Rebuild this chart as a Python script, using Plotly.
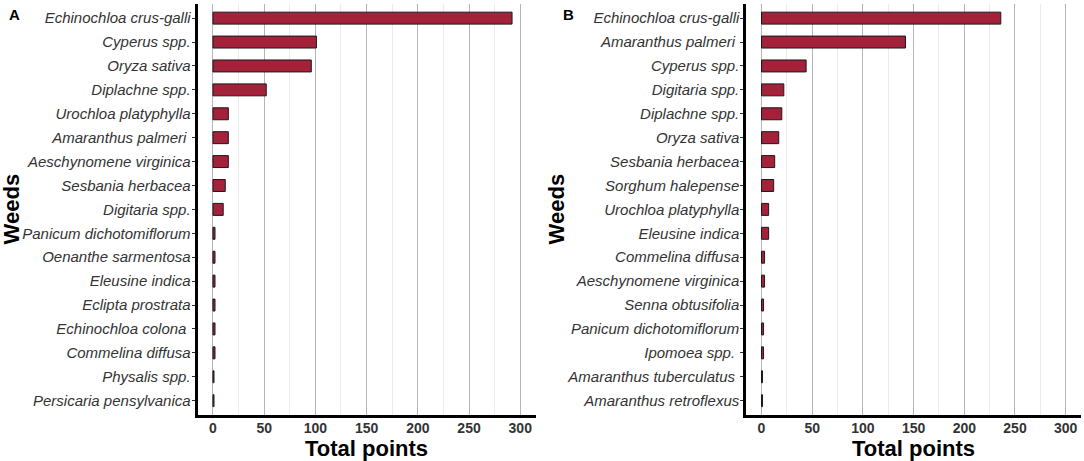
import plotly.graph_objects as go

# Panel A: weeds ranked by total points
weeds_a = [
    "Echinochloa crus-galli", "Cyperus spp.", "Oryza sativa", "Diplachne spp.",
    "Urochloa platyphylla", "Amaranthus palmeri ", "Aeschynomene virginica",
    "Sesbania herbacea", "Digitaria spp.", "Panicum dichotomiflorum",
    "Oenanthe sarmentosa", "Eleusine indica", "Eclipta prostrata",
    "Echinochloa colona ", "Commelina diffusa", "Physalis spp.",
    "Persicaria pensylvanica",
]
points_a = [292, 101, 96, 52, 15, 15, 15, 12, 10, 2, 2, 2, 2, 2, 2, 1, 1]

# Panel B
weeds_b = [
    "Echinochloa crus-galli", "Amaranthus palmeri ", "Cyperus spp.",
    "Digitaria spp.", "Diplachne spp.", "Oryza sativa", "Sesbania herbacea",
    "Sorghum halepense", "Urochloa platyphylla", "Eleusine indica",
    "Commelina diffusa", "Aeschynomene virginica", "Senna obtusifolia",
    "Panicum dichotomiflorum", "Ipomoea spp. ", "Amaranthus tuberculatus ",
    "Amaranthus retroflexus",
]
points_b = [236, 142, 44, 22, 20, 17, 13, 12, 7, 7, 3, 3, 2, 2, 2, 1, 1]

x_ticks = [0, 50, 100, 150, 200, 250, 300]

FONT = "Liberation Sans, Arial, sans-serif"
BAR_COLOR = "#a3223a"
W, H = 1084, 461
Y_DOMAIN = [(H - 415) / H, (H - 3.8) / H]


def bar_trace(weeds, points, xa, ya):
    return go.Bar(
        x=points, y=weeds, orientation="h", width=0.5,
        marker=dict(color=BAR_COLOR, line=dict(color="#1a1a1a", width=1)),
        xaxis=xa, yaxis=ya, showlegend=False, hoverinfo="skip",
    )


def x_axis(domain, anchor):
    return dict(
        domain=domain, anchor=anchor, range=[-15, 315],
        tickvals=x_ticks, ticktext=[str(v) for v in x_ticks],
        showgrid=True, gridcolor="#b5b5b5", gridwidth=1,
        minor=dict(dtick=25, tick0=0, showgrid=True, gridcolor="#ebebeb",
                   gridwidth=1, ticks=""),
        zeroline=False, showline=True, linecolor="black", linewidth=3,
        ticks="", ticklabelstandoff=-2,
        tickfont=dict(family=FONT, size=14, color="#333333", weight="bold"),
    )


def y_axis(weeds, anchor):
    return dict(
        domain=Y_DOMAIN, anchor=anchor, type="category",
        categoryorder="array", categoryarray=weeds,
        range=[len(weeds) - 0.4, -0.6],
        showgrid=False, zeroline=False,
        showline=True, linecolor="black", linewidth=3,
        ticks="outside", ticklen=3, tickcolor="#333333",
        ticklabelstandoff=-2,
        tickfont=dict(family=FONT, size=15, color="#333333", style="italic"),
    )


fig = go.Figure()
fig.add_trace(bar_trace(weeds_a, points_a, "x", "y"))
fig.add_trace(bar_trace(weeds_b, points_b, "x2", "y2"))

title_font = dict(family=FONT, size=22, color="black", weight="bold")
letter_font = dict(family=FONT, size=15, color="black", weight="bold")
y_mid = (Y_DOMAIN[0] + Y_DOMAIN[1]) / 2

fig.update_layout(
    width=W, height=H,
    margin=dict(l=0, r=0, t=0, b=0),
    paper_bgcolor="white", plot_bgcolor="white",
    hovermode=False,
    xaxis=x_axis([197.6 / W, 535.6 / W], "y"),
    yaxis=y_axis(weeds_a, "x"),
    xaxis2=x_axis([746.3 / W, 1080.9 / W], "y2"),
    yaxis2=y_axis(weeds_b, "x2"),
    annotations=[
        dict(text="A", x=14 / W, y=1 - 15 / H, xref="paper", yref="paper",
             showarrow=False, font=letter_font, xanchor="center", yanchor="middle"),
        dict(text="B", x=568 / W, y=1 - 15 / H, xref="paper", yref="paper",
             showarrow=False, font=letter_font, xanchor="center", yanchor="middle"),
        dict(text="Weeds", x=11 / W, y=y_mid, xref="paper", yref="paper",
             textangle=-90, showarrow=False, font=title_font,
             xanchor="center", yanchor="middle"),
        dict(text="Weeds", x=556 / W, y=y_mid, xref="paper", yref="paper",
             textangle=-90, showarrow=False, font=title_font,
             xanchor="center", yanchor="middle"),
        dict(text="Total points", x=0.5, y=1 - 448.5 / H, xref="x domain", yref="paper",
             showarrow=False, font=title_font, xanchor="center", yanchor="middle"),
        dict(text="Total points", x=0.5, y=1 - 448.5 / H, xref="x2 domain", yref="paper",
             showarrow=False, font=title_font, xanchor="center", yanchor="middle"),
    ],
)

# the page body has an 8px default margin; drop it so the figure sits at 0,0
fig.write_html("out.html", config={"displayModeBar": False},
               post_script="document.body.style.margin = '0px';")
